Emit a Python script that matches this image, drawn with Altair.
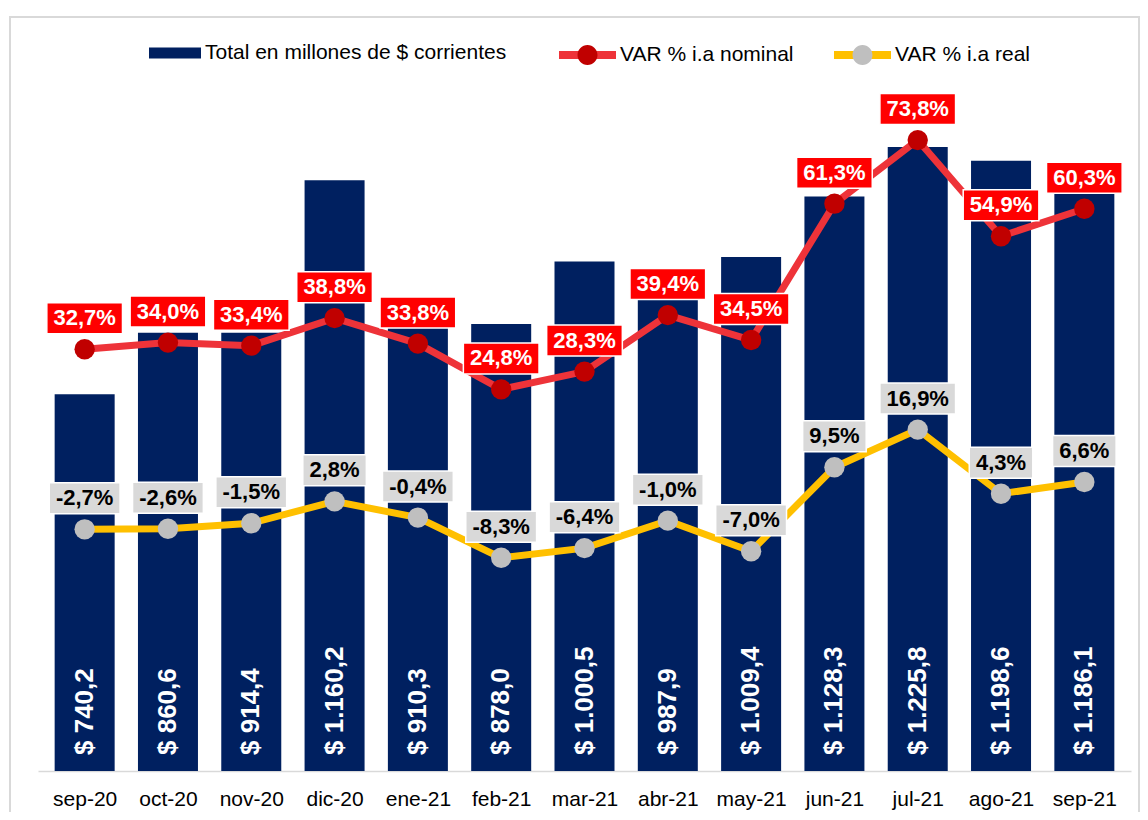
import altair as alt
import pandas as pd

meses = ['sep-20', 'oct-20', 'nov-20', 'dic-20', 'ene-21', 'feb-21', 'mar-21',
         'abr-21', 'may-21', 'jun-21', 'jul-21', 'ago-21', 'sep-21']
# values printed on the bars
total = [740.2, 860.6, 914.4, 1160.2, 910.3, 878.0, 1000.5, 987.9, 1009.4,
         1128.3, 1225.8, 1198.6, 1186.1]
# bar heights as drawn in the picture (nov-20 is drawn at the oct-20 height)
altura = [740.2, 860.6, 860.6, 1160.2, 910.3, 878.0, 1000.5, 987.9, 1009.4,
          1128.3, 1225.8, 1198.6, 1186.1]
nominal = [32.7, 34.0, 33.4, 38.8, 33.8, 24.8, 28.3, 39.4, 34.5, 61.3, 73.8, 54.9, 60.3]
real = [-2.7, -2.6, -1.5, 2.8, -0.4, -8.3, -6.4, -1.0, -7.0, 9.5, 16.9, 4.3, 6.6]

S_BAR = 'Total en millones de $ corrientes'
S_NOM = 'VAR % i.a nominal'
S_REAL = 'VAR % i.a real'

FONT = 'Liberation Sans'
PLOT_W, PLOT_H = 1093, 751
STEP = PLOT_W / 13.0
BAR_DOM = [0, 1475]
PCT_DOM = [-50.2, 97.4]
PCT_PX = PLOT_H / (PCT_DOM[1] - PCT_DOM[0])
BAR_PX = PLOT_H / (BAR_DOM[1] - BAR_DOM[0])
LAB_SIZE = 22


def fmt_pct(v):
    return f"{v:.1f}".replace('.', ',') + '%'


def fmt_money(v):
    s = f"{v:,.1f}".replace(',', 'X').replace('.', ',').replace('X', '.')
    return '$ ' + s


# bold Arial-metric widths (em)
CW = {'%': 0.889, ',': 0.278, '-': 0.333}


def text_w(s, size=LAB_SIZE):
    return sum(CW.get(c, 0.556) for c in s) * size


bars_df = pd.DataFrame({
    'idx': list(range(13)),
    'mes': meses,
    'altura': altura,
    'etiqueta': [fmt_money(v) for v in total],
    'serie': S_BAR,
    'lab_y': 16 / BAR_PX,
})

rows = []
for serie, key, vals in [(S_NOM, 'N', nominal), (S_REAL, 'R', real)]:
    for i, v in enumerate(vals):
        lab = fmt_pct(v)
        half = (text_w(lab) + 14) / 2 / STEP
        rows.append({
            'idx': i, 'serie': serie, 'clave': key, 'valor': v, 'etiqueta': lab,
            'x0': i - half, 'x1': i + half,
            'b0': v + 15.5 / PCT_PX, 'b1': v + 46.5 / PCT_PX,
            'ty': v + 31 / PCT_PX,
        })
lines_df = pd.DataFrame(rows)

label_expr = '[' + ','.join(f"'{m}'" for m in meses) + '][datum.value]'
x_scale = alt.Scale(domain=[-0.5, 12.5], nice=False, zero=False)
x_axis = alt.Axis(values=list(range(13)), labelExpr=label_expr, grid=False, ticks=False,
                  domainColor='#d9d9d9', domainWidth=1.5, labelFontSize=21, labelFont=FONT,
                  labelColor='black', labelPadding=17, title=None)


def X(field):
    return alt.X(f'{field}:Q', scale=x_scale, axis=x_axis, title=None)


y_bar_scale = alt.Scale(domain=BAR_DOM, nice=False, zero=True)
y_pct_scale = alt.Scale(domain=PCT_DOM, nice=False, zero=False)

frame = alt.Chart(pd.DataFrame({'a': [0]})).mark_rect(
    filled=False, stroke='#d9d9d9', strokeWidth=2
).encode(x=alt.value(-28), x2=alt.value(1101), y=alt.value(-3), y2=alt.value(900))

bars = alt.Chart(bars_df).mark_bar(size=60, color='#002060').encode(
    x=X('idx'),
    y=alt.Y('altura:Q', scale=y_bar_scale, axis=None),
    color=alt.Color('serie:N', scale=alt.Scale(domain=[S_BAR], range=['#002060']),
                    legend=alt.Legend(orient='none', legendX=111, legendY=7, title=None,
                                      symbolType='M-1,-0.21L1,-0.21L1,0.21L-1,0.21Z',
                                      symbolSize=2704, symbolStrokeWidth=0,
                                      labelFontSize=21, labelFont=FONT, labelColor='black',
                                      labelOffset=4, padding=0, labelLimit=0)),
)

bar_text = alt.Chart(bars_df).mark_text(
    angle=270, align='left', baseline='middle', color='white', fontSize=26,
    fontWeight='bold', font=FONT
).encode(
    x=X('idx'),
    y=alt.Y('lab_y:Q', scale=y_bar_scale, axis=None),
    text='etiqueta:N',
)

LEG_COMMON = dict(orient='none', legendX=517, legendY=2.5, title=None, direction='horizontal',
                  symbolSize=3249, symbolStrokeWidth=8, labelFontSize=21, labelFont=FONT,
                  labelColor='black', labelOffset=0, columnPadding=24, padding=0,
                  labelLimit=0, gridAlign='none')

lines = alt.Chart(lines_df).mark_line(strokeWidth=7).encode(
    x=X('idx'),
    y=alt.Y('valor:Q', scale=y_pct_scale, axis=None),
    stroke=alt.Stroke('serie:N', scale=alt.Scale(domain=[S_NOM, S_REAL], range=['#ee3339', '#ffc000']),
                      legend=alt.Legend(symbolType='M-1,0L-0.3,0M0.3,0L1,0', **LEG_COMMON)),
)

points = alt.Chart(lines_df).mark_circle(size=415, opacity=1).encode(
    x=X('idx'),
    y=alt.Y('valor:Q', scale=y_pct_scale, axis=None),
    fill=alt.Fill('clave:N', scale=alt.Scale(domain=['N', 'R'], range=['#c00000', '#bfbfbf']),
                  legend=alt.Legend(symbolType='M-1,0L1,0M0.35,0A0.35,0.35,0,1,1,-0.35,0A0.35,0.35,0,1,1,0.35,0Z',
                                    symbolStrokeColor='transparent', labelOpacity=0,
                                    labelExpr=f"datum.label == 'N' ? '{S_NOM}' : '{S_REAL}'",
                                    **LEG_COMMON)),
)


def boxes(serie, color):
    return alt.Chart(lines_df).transform_filter(alt.datum.serie == serie).mark_rect(
        color=color, stroke='white', strokeWidth=1.5
    ).encode(
        x=X('x0'), x2='x1',
        y=alt.Y('b0:Q', scale=y_pct_scale, axis=None), y2='b1',
    )


def labels(serie, color):
    return alt.Chart(lines_df).transform_filter(alt.datum.serie == serie).mark_text(
        color=color, fontSize=LAB_SIZE, fontWeight='bold', font=FONT, baseline='middle',
        align='center'
    ).encode(
        x=X('idx'),
        y=alt.Y('ty:Q', scale=y_pct_scale, axis=None),
        text='etiqueta:N',
    )


chart = alt.layer(
    frame, bars, bar_text, lines, points,
    boxes(S_NOM, '#ff0000'), labels(S_NOM, 'white'),
    boxes(S_REAL, '#d9d9d9'), labels(S_REAL, 'black'),
).resolve_scale(y='independent').properties(
    width=PLOT_W, height=PLOT_H,
    padding={'left': 30, 'top': 12, 'right': 9, 'bottom': 41},
    autosize=alt.AutoSizeParams(type='none'),
).configure_view(stroke=None)

chart.save('out.html', embed_options={'renderer': 'svg', 'actions': False})
